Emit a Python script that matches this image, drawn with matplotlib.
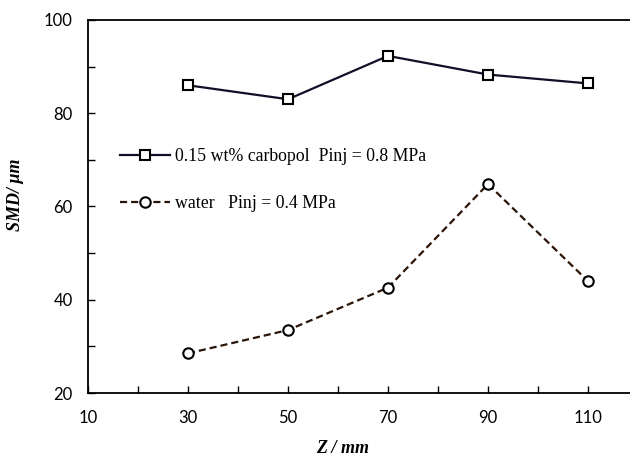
import matplotlib.pyplot as plt
from matplotlib.ticker import MultipleLocator

# data
z = [30, 50, 70, 90, 110]
smd_carbopol = [86.0, 83.0, 92.3, 88.3, 86.4]
smd_water = [28.5, 33.5, 42.6, 64.8, 44.0]
lbl_carbopol = '0.15 wt% carbopol  Pinj = 0.8 MPa'
lbl_water = 'water   Pinj = 0.4 MPa'

fig = plt.figure(figsize=(6.3, 4.59), dpi=100)
ax = fig.add_axes([88/630, 1 - 393/459, 1 - 88/630, (393 - 20)/459])

ax.plot(z, smd_carbopol, color='#101028', lw=1.6, marker='s', ms=7.5,
        mfc='white', mec='black', mew=1.5, label=lbl_carbopol)
ax.plot(z, smd_water, color='#2a1508', lw=1.6, ls=(0, (3.2, 1.8)), marker='o', ms=7.5,
        mfc='white', mec='black', mew=1.5, label=lbl_water)

ax.set_xlim(10, 118.4)
ax.set_ylim(20, 100)
ax.xaxis.set_major_locator(MultipleLocator(20, offset=10))
ax.xaxis.set_minor_locator(MultipleLocator(10))
ax.yaxis.set_major_locator(MultipleLocator(20))
ax.yaxis.set_minor_locator(MultipleLocator(10))
ax.tick_params(which='both', direction='in', width=1, labelsize=12,
               right=False, top=False, length=5)
ax.tick_params(axis='x', pad=12)
ax.tick_params(axis='y', pad=11)
for t in ax.get_xticklabels() + ax.get_yticklabels():
    t.set_family('Lato')

ax.spines['right'].set_visible(False)
for s in ['left', 'top', 'bottom']:
    ax.spines[s].set_linewidth(1.3)

ax.set_xlabel('Z / mm', family='Liberation Serif', style='italic',
              weight='bold', fontsize=13)
ax.xaxis.set_label_coords((343 - 88)/542, -0.125)
ax.set_ylabel('SMD/ μm', family='Liberation Serif', style='italic',
              weight='bold', fontsize=13)
ax.yaxis.set_label_coords(-0.118, (393 - 195)/373)

leg = ax.legend(loc='upper left', bbox_to_anchor=(104/630, 1 - 132/459),
                bbox_transform=fig.transFigure, frameon=False,
                prop={'family': 'Liberation Serif', 'size': 12.8},
                handlelength=2.8, handletextpad=0.3, labelspacing=1.7)

fig.savefig('out.png', dpi=100)
